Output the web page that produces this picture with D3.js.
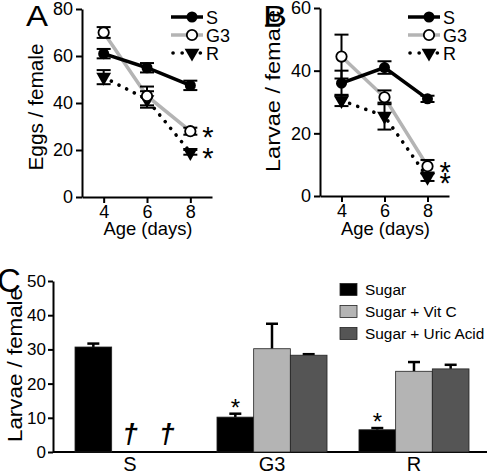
<!DOCTYPE html>
<html><head><meta charset="utf-8">
<script src="https://cdn.jsdelivr.net/npm/d3@7"></script>
<style>
body{margin:0;background:#fff;}
text{font-family:"Liberation Sans",Arial,Helvetica,sans-serif;fill:#000;}
</style></head>
<body>
<svg id="c" width="487" height="475"></svg>
<script>
// ---- data ----
const days = [4, 6, 8];
const seriesNames = ["S", "G3", "R"];
// Panel A: eggs / female
const eggsS = [61, 55, 47.5], eggsSErr = [2, 2, 2];
const eggsG3 = [70, 43, 28], eggsG3Err = [2.3, 4, 1.5];
const eggsR = [51, 41.5, 19], eggsRErr = [3, 3.5, 1];
// Panel B: larvae / female
const larvS = [36, 41, 31], larvSErr = [4, 2, 1];
const larvG3 = [44.5, 31.5, 9.5], larvG3Err = [7, 2.2, 2];
const larvR = [30.5, 25.5, 6], larvRErr = [1.8, 4.3, 1.2];
// Panel C
const strains = ["S", "G3", "R"];
const treatments = ["Sugar", "Sugar + Vit C", "Sugar + Uric Acid"];
const sugar = [30.7, 10.2, 6.5], sugarErr = [1, 1, 0.5];
const vitC = [null, 30.2, 23.6], vitCErr = [null, 7.3, 2.7];
const uric = [null, 28.3, 24.3], uricErr = [null, 0.3, 1.2];
const starsC = [false, true, true];
const yTicksA = [0, 20, 40, 60, 80], yTicksB = [0, 20, 40, 60], yTicksC = [0, 10, 20, 30, 40, 50];

const svg = d3.select("#c");
const grayLine = "#b4b4b4";
const FONT = '"Liberation Sans",Arial,Helvetica,sans-serif';

function linePanel(opt) {
  const g = svg.append("g");
  const x = d3.scaleLinear().domain([3, 9]).range(opt.xr);
  const y = d3.scaleLinear().domain(opt.yd).range(opt.yr);
  const yAx = g.append("g").attr("transform", `translate(${opt.xr[0]},0)`)
    .call(d3.axisLeft(y).tickValues(opt.yt).tickFormat(d3.format("d")).tickSize(6).tickSizeOuter(0).tickPadding(3));
  const xAx = g.append("g").attr("transform", `translate(0,${opt.yr[0]})`)
    .call(d3.axisBottom(x).tickValues(days).tickFormat(d3.format("d")).tickSize(6).tickSizeOuter(0).tickPadding(2));
  [yAx, xAx].forEach(a => {
    a.attr("font-family", FONT);
    a.select(".domain").attr("stroke-width", 2);
    a.selectAll(".tick line").attr("stroke-width", 2);
    a.selectAll(".tick text").style("font-size", "18px");
  });
  const series = [
    {v: opt.S, e: opt.Se, name: "S"},
    {v: opt.G3, e: opt.G3e, name: "G3"},
    {v: opt.R, e: opt.Re, name: "R"}
  ];
  const line = d3.line().x((d, i) => x(days[i])).y(d => y(d));
  // lines
  g.append("path").attr("d", line(opt.R)).attr("fill", "none").attr("stroke", "#000")
    .attr("stroke-width", 3.6).attr("stroke-linecap", "round").attr("stroke-dasharray", "0.1 8.5");
  g.append("path").attr("d", line(opt.G3)).attr("fill", "none").attr("stroke", grayLine).attr("stroke-width", 3.5);
  g.append("path").attr("d", line(opt.S)).attr("fill", "none").attr("stroke", "#000").attr("stroke-width", 3.5);
  // error bars
  series.forEach(s => {
    s.v.forEach((v, i) => {
      const cx = x(days[i]);
      g.append("line").attr("x1", cx).attr("x2", cx).attr("y1", y(v - s.e[i])).attr("y2", y(v + s.e[i]))
        .attr("stroke", "#000").attr("stroke-width", 2);
      [v - s.e[i], v + s.e[i]].forEach(t => g.append("line").attr("x1", cx - 7).attr("x2", cx + 7)
        .attr("y1", y(t)).attr("y2", y(t)).attr("stroke", "#000").attr("stroke-width", 2));
    });
  });
  const tri = d3.symbol().type(d3.symbolTriangle).size(95);
  function marker(name, cx, cy) {
    if (name === "S") g.append("circle").attr("cx", cx).attr("cy", cy).attr("r", 5.5).attr("fill", "#000");
    else if (name === "G3") g.append("circle").attr("cx", cx).attr("cy", cy).attr("r", 5.2).attr("fill", "#fff").attr("stroke", "#000").attr("stroke-width", 1.8);
    else g.append("path").attr("d", tri()).attr("transform", `translate(${cx},${cy}) rotate(180)`).attr("fill", "#000");
  }
  series.slice().reverse().forEach(s => s.v.forEach((v, i) => marker(s.name, x(days[i]), y(v))));
  // stars
  opt.stars.forEach(vy => g.append("text").attr("x", x(8) + 12).attr("y", y(vy) + 16)
    .style("font-size", "29px").text("*"));
  // legend
  const lx0 = opt.xr[1] - 41, lx1 = opt.xr[1] - 9;
  const ly = [17, 35, 53];
  seriesNames.forEach((n, i) => {
    const yy = ly[i];
    if (n === "S") g.append("line").attr("x1", lx0).attr("x2", lx1).attr("y1", yy).attr("y2", yy).attr("stroke", "#000").attr("stroke-width", 3.5);
    else if (n === "G3") g.append("line").attr("x1", lx0).attr("x2", lx1).attr("y1", yy).attr("y2", yy).attr("stroke", grayLine).attr("stroke-width", 3.5);
    else g.append("line").attr("x1", lx0 + 2).attr("x2", lx1).attr("y1", yy).attr("y2", yy).attr("stroke", "#000").attr("stroke-width", 3.6).attr("stroke-linecap", "round").attr("stroke-dasharray", "0.1 9");
    marker(n, lx0 + 21, yy);
    g.append("text").attr("x", lx1 + 3).attr("y", yy + 6.5).style("font-size", "18px").text(n);
  });
  // titles
  g.append("text").attr("x", (opt.xr[0] + opt.xr[1]) / 2 + 1).attr("y", 235).attr("text-anchor", "middle")
    .style("font-size", "19px").attr("textLength", 89).attr("lengthAdjust", "spacingAndGlyphs").text("Age (days)");
  g.append("text").attr("transform", `translate(${opt.titleX},${opt.titleY}) rotate(-90)`).attr("text-anchor", "middle")
    .style("font-size", "20px").attr("textLength", opt.titleLen).attr("lengthAdjust", "spacingAndGlyphs").text(opt.title);
  g.append("text").attr("x", opt.letterX).attr("y", 26).style("font-size", "30px")
    .attr("textLength", opt.letterW).attr("lengthAdjust", "spacingAndGlyphs").text(opt.letter);
}

linePanel({xr: [82, 212], yr: [197, 9], yd: [0, 80], yt: yTicksA,
  S: eggsS, Se: eggsSErr, G3: eggsG3, G3e: eggsG3Err, R: eggsR, Re: eggsRErr,
  stars: [28, 19], title: "Eggs / female", titleX: 43, titleY: 107, titleLen: 127, letter: "A", letterX: 26, letterW: 22});
linePanel({xr: [320, 449], yr: [196, 8], yd: [0, 60], yt: yTicksB,
  S: larvS, Se: larvSErr, G3: larvG3, G3e: larvG3Err, R: larvR, Re: larvRErr,
  stars: [9.5, 6], title: "Larvae / female", titleX: 280, titleY: 91, titleLen: 162, letter: "B", letterX: 263, letterW: 24});

// ---- Panel C ----
(function () {
  const g = svg.append("g");
  const x0 = d3.scaleBand().domain(strains).range([75, 469]).paddingInner(0.225).paddingOuter(0);
  const x1 = d3.scaleBand().domain(treatments).range([0, x0.bandwidth()]);
  const y = d3.scaleLinear().domain([0, 50]).range([452, 281]);
  const colors = d3.scaleOrdinal().domain(treatments).range(["#000000", "#b4b4b4", "#555555"]);
  const yAx = g.append("g").attr("transform", "translate(53,0)")
    .call(d3.axisLeft(y).tickValues(yTicksC).tickFormat(d3.format("d")).tickSize(5).tickSizeOuter(0).tickPadding(2));
  yAx.attr("font-family", FONT);
  yAx.select(".domain").attr("stroke-width", 2);
  yAx.selectAll(".tick line").attr("stroke-width", 2);
  yAx.selectAll(".tick text").style("font-size", "17px");
  g.append("line").attr("x1", 53).attr("x2", 487).attr("y1", y(0)).attr("y2", y(0)).attr("stroke", "#000").attr("stroke-width", 2);
  const vals = [sugar, vitC, uric], errs = [sugarErr, vitCErr, uricErr];
  strains.forEach((s, si) => {
    treatments.forEach((t, ti) => {
      const v = vals[ti][si];
      const bx = x0(s) + x1(t), bw = x1.bandwidth();
      if (v == null) {
        g.append("text").attr("x", bx + bw / 2).attr("y", 443).attr("text-anchor", "middle")
          .style("font-size", "28px").style("font-style", "italic").style("font-weight", "bold").text("\u2020");
        return;
      }
      const e = errs[ti][si];
      const cx = bx + bw / 2;
      g.append("line").attr("x1", cx).attr("x2", cx).attr("y1", y(v)).attr("y2", y(v + e)).attr("stroke", "#000").attr("stroke-width", 2.5);
      g.append("line").attr("x1", cx - 6).attr("x2", cx + 6).attr("y1", y(v + e)).attr("y2", y(v + e)).attr("stroke", "#000").attr("stroke-width", 2.5);
      g.append("rect").attr("x", bx).attr("y", y(v)).attr("width", bw).attr("height", y(0) - y(v))
        .attr("fill", colors(t)).attr("stroke", "#222").attr("stroke-width", 0.8);
    });
    if (starsC[si]) {
      const cx = x0(s) + x1(treatments[0]) + x1.bandwidth() / 2;
      g.append("text").attr("x", cx).attr("y", y(sugar[si] + sugarErr[si]) + 2).attr("text-anchor", "middle")
        .style("font-size", "24px").text("*");
    }
    g.append("text").attr("x", x0(s) + x0.bandwidth() / 2).attr("y", 471).attr("text-anchor", "middle")
      .style("font-size", "20px").text(s);
  });
  // legend
  treatments.forEach((t, i) => {
    const by = 294.5 + i * 22;
    g.append("rect").attr("x", 340).attr("y", by - 11).attr("width", 17).attr("height", 12)
      .attr("fill", colors(t)).attr("stroke", "#222").attr("stroke-width", 0.8);
    g.append("text").attr("x", 365).attr("y", by).style("font-size", "15.4px").text(t);
  });
  g.append("text").attr("transform", "translate(22,365) rotate(-90)").attr("text-anchor", "middle")
    .style("font-size", "20px").attr("textLength", 154).attr("lengthAdjust", "spacingAndGlyphs").text("Larvae / female");
  g.append("text").attr("x", -3).attr("y", 292).style("font-size", "33px").text("C");
})();
</script>
</body></html>
